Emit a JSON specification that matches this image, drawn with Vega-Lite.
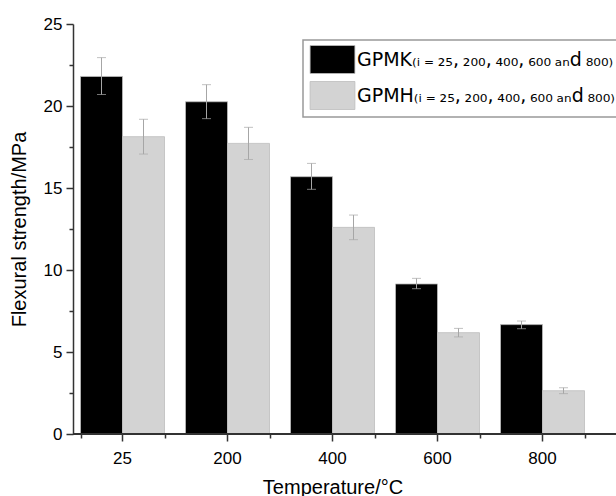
{
  "$schema": "https://vega.github.io/schema/vega-lite/v6.json",
  "width": 543,
  "height": 410,
  "autosize": {"type": "none"},
  "padding": {"left": 73, "top": 24, "right": 0, "bottom": 62},
  "config": {
    "font": "Liberation Sans",
    "view": {"stroke": null},
    "axis": {"labelColor": "black", "titleColor": "black", "titleFontWeight": "normal", "grid": false},
    "legend": {
      "orient": "none",
      "legendX": 230,
      "legendY": 16,
      "strokeColor": "#999999",
      "strokeWidth": 1.5,
      "fillColor": "white",
      "padding": 5,
      "symbolType": "M-1.6,-1H1.6V1H-1.6Z",
      "symbolSize": 784,
      "symbolOffset": 10,
      "symbolStrokeWidth": 0.8,
      "labelOffset": 10,
      "labelFont": "DejaVu Sans",
      "labelFontSize": 19,
      "labelLimit": 0,
      "labelColor": "black",
      "rowPadding": 3,
      "title": null
    }
  },
  "data": {
    "values": [
      {"temp": "25", "series": "GPMK", "value": 21.8, "lo": 20.7, "hi": 22.95},
      {"temp": "25", "series": "GPMH", "value": 18.13, "lo": 17.07, "hi": 19.19},
      {"temp": "200", "series": "GPMK", "value": 20.26, "lo": 19.23, "hi": 21.3},
      {"temp": "200", "series": "GPMH", "value": 17.72, "lo": 16.74, "hi": 18.7},
      {"temp": "400", "series": "GPMK", "value": 15.69, "lo": 14.92, "hi": 16.5},
      {"temp": "400", "series": "GPMH", "value": 12.6, "lo": 11.85, "hi": 13.35},
      {"temp": "600", "series": "GPMK", "value": 9.15, "lo": 8.86, "hi": 9.49},
      {"temp": "600", "series": "GPMH", "value": 6.18, "lo": 5.92, "hi": 6.44},
      {"temp": "800", "series": "GPMK", "value": 6.67, "lo": 6.42, "hi": 6.89},
      {"temp": "800", "series": "GPMH", "value": 2.64, "lo": 2.46, "hi": 2.82}
    ]
  },
  "resolve": {"axis": {"x": "independent"}},
  "layer": [
    {
      "mark": {"type": "bar", "stroke": "#bdbdbd", "strokeWidth": 0.8},
      "encoding": {
        "x": {
          "field": "temp", "type": "nominal", "sort": ["25", "200", "400", "600", "800"],
          "scale": {"type": "band", "range": [-3, 522], "paddingInner": 0.2, "paddingOuter": 0.1},
          "axis": {
            "title": "Temperature/°C", "titleFontSize": 20, "titlePadding": 11,
            "labelFontSize": 17, "labelPadding": 9, "labelAngle": 0,
            "tickSize": 7, "tickWidth": 1.5, "tickColor": "#333333", "domain": false
          }
        },
        "xOffset": {"field": "series", "type": "nominal", "sort": ["GPMK", "GPMH"], "scale": {"paddingInner": 0, "paddingOuter": 0}},
        "y": {
          "field": "value", "type": "quantitative",
          "scale": {"domain": [0, 25], "nice": false, "zero": true},
          "axis": {
            "title": "Flexural strength/MPa", "titleFontSize": 20, "titlePadding": 14,
            "values": [0, 2.5, 5, 7.5, 10, 12.5, 15, 17.5, 20, 22.5, 25],
            "labelExpr": "datum.value % 5 === 0 ? datum.label : ''",
            "labelFontSize": 17, "labelPadding": 4,
            "tickSize": {"condition": {"test": "datum.value % 5 !== 0", "value": 4}, "value": 7},
            "tickWidth": 1.5, "tickColor": "#333333",
            "domainColor": "#333333", "domainWidth": 1.5
          }
        },
        "fill": {
          "field": "series", "type": "nominal",
          "scale": {"domain": ["GPMK", "GPMH"], "range": ["#000000", "#d3d3d3"]},
          "legend": {
            "labelExpr": "datum.label === 'GPMK' ? 'GPMK₍ᵢ\u2009₌\u2009₂₅,\u2009₂₀₀,\u2009₄₀₀,\u2009₆₀₀\u2009ₐₙd\u2009₈₀₀₎' : 'GPMH₍ᵢ\u2009₌\u2009₂₅,\u2009₂₀₀,\u2009₄₀₀,\u2009₆₀₀\u2009ₐₙd\u2009₈₀₀₎'"
          }
        }
      }
    },
    {
      "mark": {"type": "rule", "color": "#a6a6a6", "strokeWidth": 1},
      "encoding": {
        "x": {"field": "temp", "type": "nominal", "sort": ["25", "200", "400", "600", "800"], "axis": null},
        "xOffset": {"field": "series", "type": "nominal", "sort": ["GPMK", "GPMH"]},
        "y": {"field": "lo", "type": "quantitative", "title": "Flexural strength/MPa"},
        "y2": {"field": "hi"}
      }
    },
    {
      "mark": {"type": "tick", "color": "#a6a6a6", "thickness": 1, "size": 9},
      "encoding": {
        "x": {"field": "temp", "type": "nominal", "sort": ["25", "200", "400", "600", "800"],
          "axis": {"orient": "bottom", "tickBand": "extent", "labels": false, "title": null, "domain": false,
                   "tickSize": 4, "tickWidth": 1.5, "tickColor": "#333333"}},
        "xOffset": {"field": "series", "type": "nominal", "sort": ["GPMK", "GPMH"]},
        "y": {"field": "hi", "type": "quantitative", "title": "Flexural strength/MPa"}
      }
    },
    {
      "mark": {"type": "tick", "color": "#a6a6a6", "thickness": 1, "size": 9},
      "encoding": {
        "x": {"field": "temp", "type": "nominal", "sort": ["25", "200", "400", "600", "800"], "axis": null},
        "xOffset": {"field": "series", "type": "nominal", "sort": ["GPMK", "GPMH"]},
        "y": {"field": "lo", "type": "quantitative", "title": "Flexural strength/MPa"}
      }
    },
    {
      "mark": {"type": "rule", "color": "#333333", "strokeWidth": 1.5},
      "encoding": {"y": {"datum": 0, "type": "quantitative", "title": "Flexural strength/MPa"}}
    }
  ]
}
